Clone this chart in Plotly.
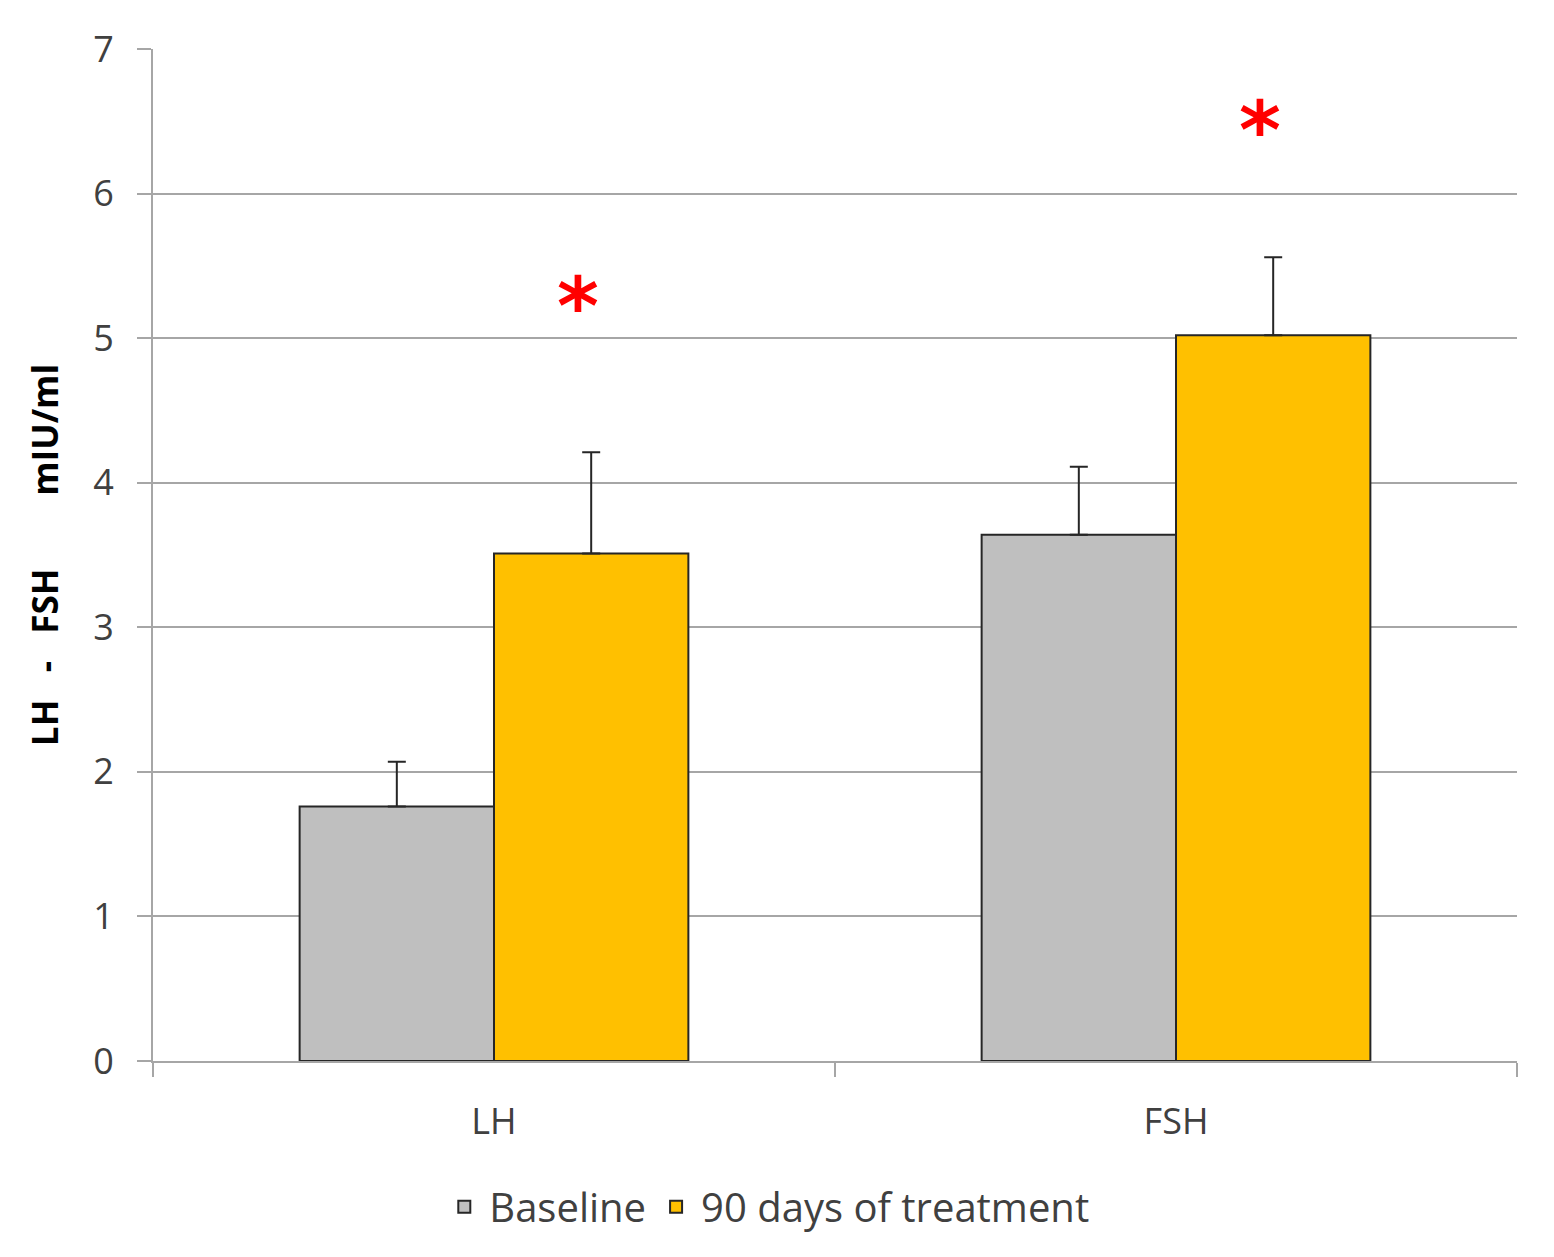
import plotly.graph_objects as go

# data
hormones = ["LH", "FSH"]
baseline = [1.76, 3.64]
baseline_err = [0.31, 0.47]
treated = [3.51, 5.02]
treated_err = [0.70, 0.54]
series_names = ["Baseline", "90 days of treatment"]
sig_marks = ["*", "*"]
sig_y = [5.30, 6.52]
y_ticks = [0, 1, 2, 3, 4, 5, 6, 7]

font_family = "Open Sans"
text_color = "#404040"
grid_color = "#a6a6a6"

fig = go.Figure()

for name, vals, errs, color in [
    (series_names[0], baseline, baseline_err, "#bfbfbf"),
    (series_names[1], treated, treated_err, "#ffc000"),
]:
    fig.add_trace(
        go.Bar(
            x=hormones,
            y=vals,
            name=name,
            marker=dict(color=color, line=dict(color="#262626", width=2)),
            error_y=dict(
                type="data",
                symmetric=False,
                array=errs,
                arrayminus=[0] * len(errs),
                color="#262626",
                thickness=2,
                width=9,
            ),
        )
    )

# significance asterisks above the treated bars
for h, mark, y in zip(hormones, sig_marks, sig_y):
    fig.add_annotation(
        x=h,
        y=y,
        text=f"<b>{mark}</b>",
        showarrow=False,
        xshift=84,
        yshift=-12,
        font=dict(family="DejaVu Sans", size=80, color="#ff0000"),
    )

fig.update_layout(
    width=1554,
    height=1257,
    margin=dict(l=145, r=45, t=41, b=204),
    paper_bgcolor="white",
    plot_bgcolor="white",
    barmode="group",
    bargap=0.43,
    bargroupgap=0,
    font=dict(family=font_family, size=34, color=text_color),
    legend=dict(
        orientation="h",
        x=0.45,
        xanchor="center",
        y=-0.112,
        yanchor="top",
        font=dict(size=40, color=text_color),
        itemwidth=40,
    ),
)

fig.update_yaxes(
    range=[0, 7],
    tickvals=y_ticks,
    showgrid=True,
    gridcolor=grid_color,
    gridwidth=2,
    showline=True,
    linecolor=grid_color,
    linewidth=2,
    ticks="outside",
    ticklen=14,
    tickcolor=grid_color,
    tickwidth=2,
    ticklabelstandoff=16,
    tickfont=dict(size=36, color=text_color),
    zeroline=False,
    title=dict(
        text="<b>LH   -   FSH        mIU/ml</b>",
        font=dict(size=35, color="#000000"),
        standoff=24,
    ),
)

fig.update_xaxes(
    showline=True,
    linecolor=grid_color,
    linewidth=2,
    ticks="outside",
    tickson="boundaries",
    ticklen=14,
    tickcolor=grid_color,
    tickwidth=2,
    ticklabelstandoff=28,
    tickfont=dict(size=36, color=text_color),
)

fig.write_html("out.html")
